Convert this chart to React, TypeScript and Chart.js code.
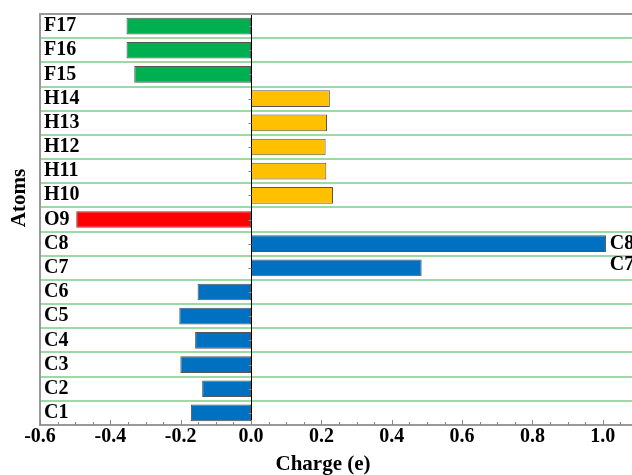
import React, { useEffect, useRef } from 'react';
import { Chart, registerables } from 'chart.js';

Chart.register(...registerables);

// Atoms listed from top row to bottom row
const atoms = ['F17', 'F16', 'F15', 'H14', 'H13', 'H12', 'H11', 'H10', 'O9', 'C8', 'C7', 'C6', 'C5', 'C4', 'C3', 'C2', 'C1'];
const charges = [-0.354, -0.354, -0.332, 0.224, 0.216, 0.212, 0.214, 0.233, -0.497, 1.009, 0.485, -0.152, -0.204, -0.159, -0.201, -0.139, -0.171];
const xTickValues = [-0.6, -0.4, -0.2, 0, 0.2, 0.4, 0.6, 0.8, 1.0];
const rightLabels = ['C8', 'C7'];
const xTitle = 'Charge (e)';
const yTitle = 'Atoms';
const elementColors: Record<string, string> = { F: '#00B050', H: '#FFC000', O: '#FF0000', C: '#0070C0' };

const FONT = '"Liberation Serif", "Times New Roman", serif';

export default function App() {
  const ref = useRef<HTMLCanvasElement>(null);

  useEffect(() => {
    if (!ref.current) return;
    const decor = {
      id: 'decor',
      afterDatasetsDraw(chart: any) {
        const { ctx, chartArea: a, scales } = chart;
        const x = scales.x;
        const y = scales.y;
        ctx.save();
        // zero line
        const x0 = Math.round(x.getPixelForValue(0)) + 0.5;
        ctx.strokeStyle = '#000';
        ctx.lineWidth = 1;
        ctx.beginPath();
        ctx.moveTo(x0, a.top);
        ctx.lineTo(x0, a.bottom);
        ctx.stroke();
        // small ticks on zero line
        ctx.strokeStyle = '#888';
        atoms.forEach((_, i) => {
          const py = Math.round(y.getPixelForValue(i)) + 0.5;
          ctx.beginPath();
          ctx.moveTo(x0 - 3, py);
          ctx.lineTo(x0, py);
          ctx.stroke();
        });
        // x-axis inner ticks (major 0.2, minor 0.05)
        ctx.strokeStyle = '#888';
        for (let k = -12; k <= 21; k++) {
          const v = k * 0.05;
          const px = Math.round(x.getPixelForValue(v)) + 0.5;
          const len = k % 4 === 0 ? 5 : 3;
          ctx.beginPath();
          ctx.moveTo(px, a.bottom);
          ctx.lineTo(px, a.bottom - len);
          ctx.stroke();
        }
        // top border
        ctx.strokeStyle = '#999';
        ctx.lineWidth = 2;
        ctx.beginPath();
        ctx.moveTo(a.left - 1, a.top);
        ctx.lineTo(a.right, a.top);
        ctx.stroke();
        // right-side labels
        ctx.fillStyle = '#000';
        ctx.font = `bold 20px ${FONT}`;
        ctx.textAlign = 'left';
        ctx.textBaseline = 'middle';
        const lx = x.getPixelForValue(1.02);
        rightLabels.forEach((lab, j) => {
          const idx = atoms.indexOf(lab);
          const py = y.getPixelForValue(idx) - (j === 1 ? 3 : 0);
          ctx.fillText(lab, lx, py);
        });
        // axis titles
        ctx.font = `bold 21px ${FONT}`;
        ctx.textAlign = 'center';
        ctx.textBaseline = 'alphabetic';
        ctx.fillText(xTitle, 323, 470);
        ctx.save();
        ctx.translate(25, 198);
        ctx.rotate(-Math.PI / 2);
        ctx.textBaseline = 'alphabetic';
        ctx.fillText(yTitle, 0, 0);
        ctx.restore();
        ctx.restore();
      },
    };

    const chart = new Chart(ref.current, {
      type: 'bar',
      data: {
        labels: atoms,
        datasets: [
          {
            data: charges,
            backgroundColor: atoms.map((a) => elementColors[a[0]]),
            borderColor: '#555',
            borderWidth: 1,
            borderSkipped: false,
            barPercentage: 0.69,
            categoryPercentage: 1,
          },
        ],
      },
      options: {
        indexAxis: 'y',
        animation: false,
        responsive: false,
        maintainAspectRatio: false,
        layout: { padding: { top: 14, left: 0, right: 0, bottom: 0 } },
        plugins: { legend: { display: false }, tooltip: { enabled: false } },
        scales: {
          x: {
            type: 'linear',
            min: -0.6,
            max: 1.083,
            grid: { display: false, drawTicks: false },
            border: { color: '#999', width: 2 },
            afterBuildTicks: (s: any) => {
              s.ticks = xTickValues.map((v) => ({ value: v }));
            },
            afterFit: (s: any) => {
              s.height = 50;
              s.paddingLeft = 0;
              s.paddingRight = 0;
            },
            ticks: {
              autoSkip: false,
              maxRotation: 0,
              padding: 0,
              color: '#000',
              font: { family: FONT, size: 20, weight: 'bold' },
              callback: (v: any) => Number(v).toFixed(1),
            },
          },
          y: {
            type: 'category',
            offset: true,
            grid: { offset: true, color: '#9dd9a6', lineWidth: 2, drawTicks: false },
            border: { color: '#999', width: 2 },
            afterFit: (s: any) => {
              s.width = 40;
              s.paddingTop = 0;
              s.paddingBottom = 0;
            },
            ticks: {
              mirror: true,
              padding: 4,
              autoSkip: false,
              color: '#000',
              font: { family: FONT, size: 20, weight: 'bold' },
            },
          },
        },
      },
      plugins: [decor],
    });
    return () => chart.destroy();
  }, []);

  return (
    <div style={{ position: 'absolute', left: 0, top: 0, width: 632, height: 475, background: '#fff' }}>
      <canvas ref={ref} width={632} height={475} />
    </div>
  );
}
